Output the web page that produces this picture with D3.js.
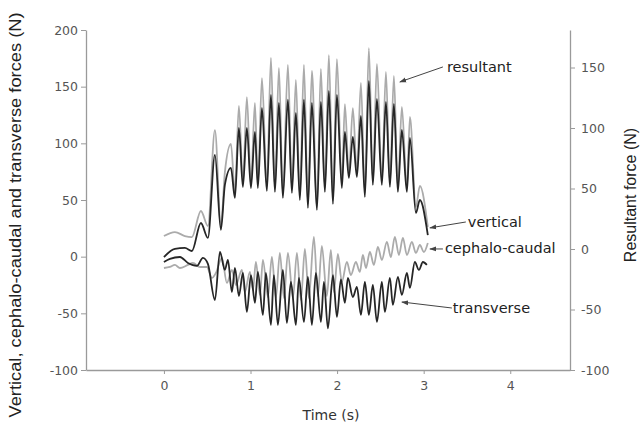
<!DOCTYPE html>
<html><head><meta charset="utf-8">
<script src="https://cdn.jsdelivr.net/npm/d3@7"></script>
<style>body{margin:0;background:#fff}svg{display:block}</style>
</head><body><svg id="c" width="640" height="427"></svg>
<script>
// ---- data (time in s, force in N) ----
const timeVR = [0,0.127,0.242,0.323,0.427,0.508,0.589,0.658,0.704,0.774,0.820,0.866,0.912,0.958,1.005,1.051,1.085,1.132,1.189,1.236,1.282,1.328,1.374,1.432,1.478,1.524,1.570,1.617,1.663,1.709,1.767,1.813,1.859,1.905,1.952,1.998,2.055,2.090,2.136,2.182,2.229,2.275,2.321,2.367,2.413,2.460,2.517,2.564,2.610,2.656,2.702,2.748,2.806,2.841,2.910,2.956,3.048];
const vertical = [-0.3,6.8,7.7,5.0,29.7,16.5,89.8,23.6,63.3,78.3,51.8,113.6,61.5,113.6,60.6,110.1,60.6,131.2,58.0,142.7,57.1,135.7,51.8,138.5,56.2,126.8,50.0,138.5,43.0,135.7,41.2,136.5,57.1,146.2,46.5,142.7,60.6,110.1,69.5,105.6,70.3,124.1,52.7,155.0,63.3,139.2,63.3,136.5,61.5,134.8,57.1,111.8,57.1,104.8,38.6,50.0,19.1];
const resultant = [10.7,14.0,10.7,9.9,31.4,19.0,98.3,19.0,63.6,86.8,46.3,118.2,54.5,125.6,53.7,120.7,53.7,141.3,52.1,157.9,50.4,149.6,45.5,152.1,49.6,139.7,43.8,152.1,37.2,147.1,35.5,148.8,50.4,160.3,40.5,157.0,53.7,119.8,62.0,116.5,62.8,137.2,46.3,166.1,56.2,152.9,56.2,146.3,54.5,143.0,50.4,117.4,50.4,109.1,34.7,52.1,18.2];
const timeTR = [0,0.069,0.185,0.277,0.381,0.450,0.508,0.589,0.647,0.704,0.739,0.785,0.820,0.866,0.912,0.958,1.005,1.051,1.085,1.143,1.178,1.236,1.270,1.316,1.374,1.420,1.467,1.524,1.559,1.617,1.663,1.709,1.755,1.813,1.848,1.894,1.952,1.998,2.044,2.090,2.125,2.182,2.229,2.275,2.321,2.367,2.413,2.460,2.517,2.552,2.610,2.644,2.702,2.748,2.806,2.841,2.898,2.945,2.991,3.037];
const transverse = [-4.7,-2.0,-0.3,-5.6,-8.2,-1.1,-6.4,-38.2,4.1,-11.7,-2.9,-31.2,-10.0,-34.7,-14.4,-48.8,-16.2,-40.7,-13.5,-51.4,-14.4,-60.2,-16.2,-60.2,-11.7,-58.5,-22.3,-60.2,-18.8,-57.6,-17.9,-60.2,-14.4,-57.6,-22.3,-63.3,-16.2,-53.2,-20.1,-40.7,-18.8,-35.6,-26.7,-51.4,-22.3,-51.4,-25.0,-57.6,-22.3,-48.8,-18.8,-42.6,-17.9,-33.8,-14.4,-27.6,-4.7,-11.7,-4.7,-7.3];
const timeCC = [0,0.069,0.127,0.185,0.277,0.335,0.416,0.497,0.554,0.600,0.670,0.727,0.785,0.831,0.901,0.935,0.993,1.028,1.062,1.109,1.143,1.201,1.247,1.293,1.339,1.386,1.432,1.490,1.536,1.582,1.628,1.674,1.732,1.778,1.824,1.882,1.928,1.963,2.009,2.055,2.113,2.159,2.217,2.263,2.298,2.333,2.379,2.425,2.471,2.517,2.575,2.621,2.667,2.714,2.760,2.806,2.864,2.910,2.956,3.002,3.048];
const cephaloCaudal = [-10.0,-9.1,-7.3,-10.0,-7.3,-5.6,-9.1,-9.1,-18.8,-14.4,-1.1,-23.2,-11.7,-25.0,-11.7,-31.2,-13.5,-29.4,-4.7,-33.8,-2.9,-35.6,-0.3,-36.5,3.3,-36.5,3.3,-36.5,3.3,-38.2,6.8,-36.5,17.4,-34.7,9.4,-34.7,5.9,-31.2,2.4,-22.3,-4.7,-16.2,-4.7,-13.5,1.5,-10.0,4.1,-7.3,8.6,-2.9,13.0,-0.3,17.4,1.5,16.5,1.5,13.0,3.3,10.3,4.1,12.1];
const xTicks = [0,1,2,3,4];
const leftTicks = [-100,-50,0,50,100,150,200];
const rightTicks = [-100,-50,0,50,100,150];
const labels = ["resultant","vertical","cephalo-caudal","transverse"];

// ---- chart ----
const svg = d3.select("#c");
const x = d3.scaleLinear().domain([-0.9,4.69]).range([86,570]);
const yL = d3.scaleLinear().domain([-100,200]).range([370,30]);
const yR = d3.scaleLinear().domain([-100,181]).range([370,30]);
const fmt = d => String(d);

const axisColor = "#9a9a9a", tickText = "#555";
function styleAxis(g){
  g.select(".domain").attr("stroke",axisColor).attr("stroke-width",1.3);
  g.selectAll(".tick line").attr("stroke",axisColor).attr("stroke-width",1);
  g.selectAll(".tick text").attr("fill",tickText).attr("font-family","DejaVu Sans, sans-serif").attr("font-size","12.5px");
}
svg.append("g").attr("transform","translate(86,0)")
  .call(d3.axisLeft(yL).tickValues(leftTicks).tickFormat(fmt).tickSize(5).tickSizeOuter(0).tickPadding(3)).call(styleAxis);
svg.append("g").attr("transform","translate(570,0)")
  .call(d3.axisRight(yR).tickValues(rightTicks).tickFormat(fmt).tickSize(5).tickSizeOuter(0).tickPadding(6)).call(styleAxis);
svg.append("g").attr("transform","translate(0,370)")
  .call(d3.axisBottom(x).tickValues(xTicks).tickFormat(fmt).tickSize(4).tickSizeOuter(0).tickPadding(7)).call(styleAxis);

const mk = (ts, vs) => ts.map((t,i)=>[t,vs[i]]);
const lineL = d3.line().x(d=>x(d[0])).y(d=>yL(d[1])).curve(d3.curveMonotoneX);
const lineR = d3.line().x(d=>x(d[0])).y(d=>yR(d[1])).curve(d3.curveMonotoneX);
const light = "#ababab", dark = "#262626";
svg.append("path").attr("d",lineR(mk(timeVR,resultant))).attr("fill","none").attr("stroke",light).attr("stroke-width",1.8);
svg.append("path").attr("d",lineL(mk(timeCC,cephaloCaudal))).attr("fill","none").attr("stroke",light).attr("stroke-width",1.8);
svg.append("path").attr("d",lineL(mk(timeVR,vertical))).attr("fill","none").attr("stroke",dark).attr("stroke-width",1.8);
svg.append("path").attr("d",lineL(mk(timeTR,transverse))).attr("fill","none").attr("stroke",dark).attr("stroke-width",1.8);

// titles
svg.append("text").attr("transform","translate(21,215) rotate(-90)").attr("text-anchor","middle")
  .attr("font-family","Liberation Sans, Arial, sans-serif").attr("font-size","16px").attr("fill","#222")
  .attr("textLength",405).attr("lengthAdjust","spacingAndGlyphs")
  .text("Vertical, cephalo-caudal and transverse forces (N)");
svg.append("text").attr("transform","translate(636,195) rotate(-90)").attr("text-anchor","middle")
  .attr("font-family","Liberation Sans, Arial, sans-serif").attr("font-size","16px").attr("fill","#222")
  .text("Resultant force (N)");
svg.append("text").attr("x",331).attr("y",420).attr("text-anchor","middle")
  .attr("font-family","DejaVu Sans, sans-serif").attr("font-size","14px").attr("fill","#333")
  .text("Time (s)");

// annotations (data coords: time, left-axis force)
svg.append("defs").append("marker").attr("id","ah").attr("viewBox","0 0 10 10").attr("refX",9).attr("refY",5)
  .attr("markerWidth",7).attr("markerHeight",7).attr("orient","auto")
  .append("path").attr("d","M0,1.5L10,5L0,8.5Z").attr("fill","#444");
const ann = [
  {text:labels[0], tx:3.268, ty:163, x1:3.222, y1:167.4, x2:2.725, y2:154.2},
  {text:labels[1], tx:3.510, ty:26.2, x1:3.487, y1:30.6, x2:3.072, y2:25.4},
  {text:labels[2], tx:3.245, ty:3.0, x1:3.222, y1:6.8, x2:3.072, y2:6.8},
  {text:labels[3], tx:3.337, ty:-49.8, x1:3.326, y1:-45.3, x2:2.748, y2:-40.0}
];
ann.forEach(a=>{
  svg.append("line").attr("x1",x(a.x1)).attr("y1",yL(a.y1)).attr("x2",x(a.x2)).attr("y2",yL(a.y2))
    .attr("stroke","#444").attr("stroke-width",1).attr("marker-end","url(#ah)");
  svg.append("text").attr("x",x(a.tx)).attr("y",yL(a.ty)).attr("font-family","DejaVu Sans, sans-serif")
    .attr("font-size","14.5px").attr("fill","#222").text(a.text);
});
</script></body></html>
